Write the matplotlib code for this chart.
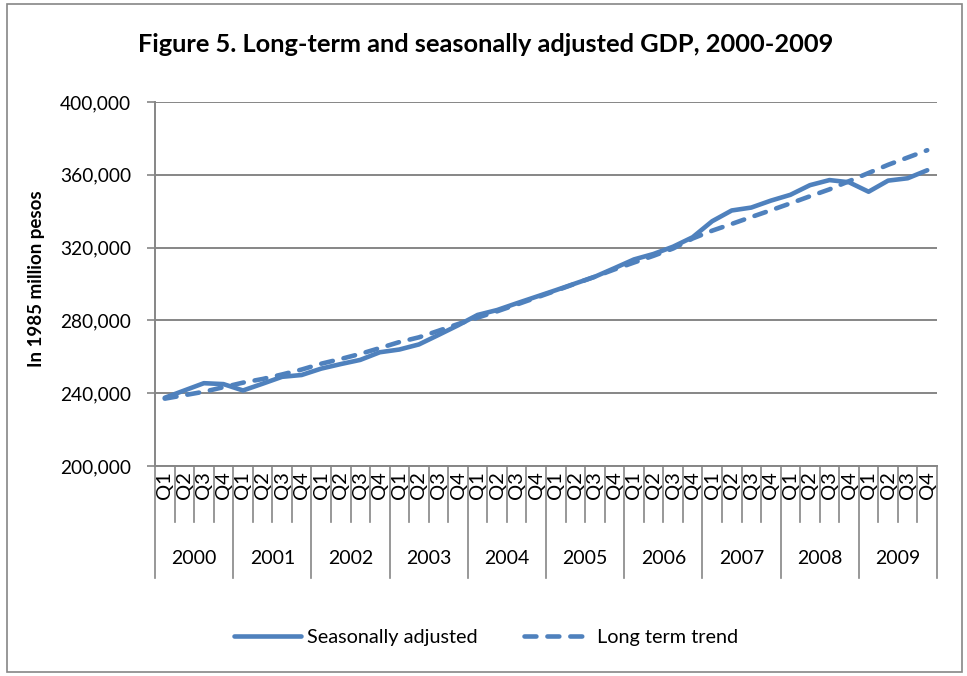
import matplotlib
matplotlib.use("Agg")
import matplotlib.pyplot as plt
from matplotlib.lines import Line2D
from matplotlib.patches import Rectangle
from matplotlib.ticker import FuncFormatter

years = ["2000", "2001", "2002", "2003", "2004", "2005", "2006", "2007", "2008", "2009"]
quarters = ["Q1", "Q2", "Q3", "Q4"]

seasonally_adjusted = [
    237.5, 241.5, 245.5, 245.0,
    241.5, 245.2, 249.0, 250.0,
    253.5, 256.0, 258.3, 262.5,
    264.0, 266.8, 272.0, 277.3,
    283.0, 285.7, 289.4, 293.0,
    296.6, 300.3, 304.0, 308.7,
    313.5, 316.5, 320.5, 325.7,
    334.5, 340.4, 342.0, 345.8,
    349.0, 354.3, 357.1, 355.9,
    350.7, 356.8, 358.1, 362.5,
]
long_term_trend = [
    237.0, 238.9, 240.8, 243.3,
    245.8, 247.8, 250.3, 253.0,
    256.2, 258.8, 261.6, 264.8,
    268.1, 270.7, 274.3, 278.0,
    281.5, 285.0, 288.7, 292.5,
    296.3, 300.2, 304.0, 308.0,
    311.8, 315.5, 319.5, 325.0,
    329.3, 333.0, 336.8, 340.5,
    344.3, 348.2, 352.0, 356.5,
    361.0, 365.5, 369.5, 373.5,
]
seasonally_adjusted = [v * 1000 for v in seasonally_adjusted]
long_term_trend = [v * 1000 for v in long_term_trend]

FONT = ["Lato", "DejaVu Sans"]
plt.rcParams["font.family"] = FONT
BLUE = "#4F81BD"
GRAY = "#868686"

W, H = 967, 676
fig = plt.figure(figsize=(W / 100, H / 100), dpi=100)
L, R, T, B = 155, 937, 102, 466
ax = fig.add_axes([L / W, 1 - B / H, (R - L) / W, (B - T) / H])

n = len(years) * len(quarters)
x = list(range(n))
ax.plot(x, seasonally_adjusted, color=BLUE, lw=3.3, solid_capstyle="round",
        solid_joinstyle="round", zorder=3)
ax.plot(x, long_term_trend, color=BLUE, lw=3.3, dashes=(2.6, 2.4),
        dash_capstyle="round", dash_joinstyle="round", zorder=4)

ax.set_xlim(-0.5, n - 0.5)
ax.set_ylim(200000, 400000)
ax.set_yticks(range(200000, 400001, 40000))
ax.yaxis.set_major_formatter(FuncFormatter(lambda v, p: f"{int(v):,}"))
ax.tick_params(axis="y", direction="out", length=6, width=1.2, color=GRAY,
               labelsize=13.8, pad=11)
ax.set_xticks([])
ax.yaxis.grid(True, color=GRAY, lw=1.4)
ax.set_axisbelow(True)
for s in ["top", "right"]:
    ax.spines[s].set_visible(False)
for s in ["left", "bottom"]:
    ax.spines[s].set_color(GRAY)
    ax.spines[s].set_linewidth(1.4)

trans = ax.get_xaxis_transform()
axh = B - T
short = -(522 - B) / axh
long_ = -(578 - B) / axh
for b in range(n + 1):
    edge = b - 0.5
    y1 = long_ if b % 4 == 0 else short
    ax.plot([edge, edge], [0, y1], transform=trans, color=GRAY, lw=1.2,
            clip_on=False)
for i in range(n):
    ax.text(i, -5 / axh, quarters[i % 4],
            transform=trans, rotation=90, ha="center", va="top", fontsize=14.5)
for k, yr in enumerate(years):
    ax.text(4 * k + 1.5, -(558 - B) / axh, yr, transform=trans, ha="center",
            va="center", fontsize=14)

fig.text(486 / W, 1 - 45 / H, "Figure 5. Long-term and seasonally adjusted GDP, 2000-2009",
         ha="center", va="center", fontsize=18.3, fontweight="bold")
fig.text(37 / W, 1 - 279 / H, "In 1985 million pesos", rotation=90, ha="center",
         va="center", fontsize=13.5, fontweight="bold")

handles = [
    Line2D([], [], color=BLUE, lw=3.3, solid_capstyle="round"),
    Line2D([], [], color=BLUE, lw=3.3, dashes=(2.6, 2.4), dash_capstyle="round"),
]
fig.legend(handles, ["Seasonally adjusted", "Long term trend"], loc="center",
           bbox_to_anchor=(486 / W, 1 - 637 / H), ncol=2, frameon=False,
           fontsize=14.3, handlelength=3.4, handletextpad=0.3, columnspacing=2.3)

fig.add_artist(Rectangle((7 / W, 4 / H), (962 - 7) / W, (672 - 4) / H,
                         transform=fig.transFigure, fill=False, edgecolor=GRAY, lw=1.2))

fig.savefig("out.png", dpi=100)
